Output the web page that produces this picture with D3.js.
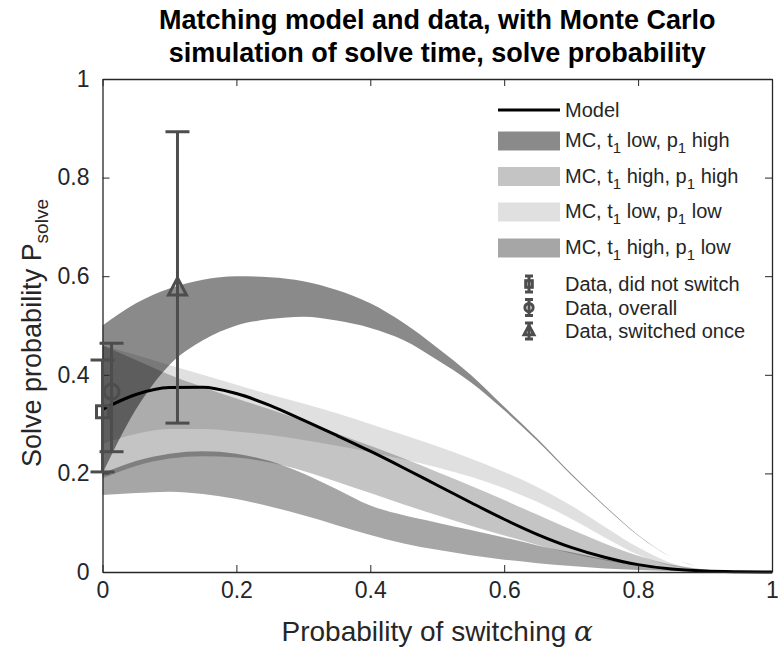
<!DOCTYPE html>
<html>
<head>
<meta charset="utf-8">
<script src="https://cdn.jsdelivr.net/npm/d3@7/dist/d3.min.js"></script>
<style>
  body { margin: 0; background: #fff; }
  svg { display: block; }
  text { font-family: "Liberation Sans", Arial, Helvetica, sans-serif; }
</style>
</head>
<body>
<svg id="chart" width="778" height="647"></svg>
<script>
// Switching probability grid shared by the model and the Monte Carlo bands
const alpha = [0,0.05,0.1,0.15,0.2,0.25,0.3,0.35,0.4,0.45,0.5,0.55,0.6,0.65,0.7,0.75,0.8,0.85,0.9,0.95,1];

// Analytical model of solve probability
const model = [0.33,0.36,0.374,0.375,0.362,0.338,0.308,0.277,0.245,0.211,0.176,0.141,0.107,0.076,0.050,0.030,0.015,0.006,0.002,0.0005,0];

// Monte Carlo bands (lower / upper envelope)
const mcLowHighLo  = [0.20,0.33,0.42,0.47,0.50,0.513,0.518,0.51,0.495,0.47,0.43,0.385,0.328,0.265,0.197,0.133,0.074,0.03,0.008,0.001,0];
const mcLowHighHi  = [0.50,0.545,0.575,0.593,0.60,0.598,0.59,0.572,0.545,0.505,0.455,0.40,0.335,0.27,0.20,0.135,0.075,0.03,0.008,0.001,0];
const mcHighHighLo = [0.19,0.215,0.23,0.235,0.232,0.222,0.205,0.183,0.16,0.137,0.115,0.094,0.074,0.055,0.038,0.024,0.013,0.006,0.002,0.0005,0];
const mcHighHighHi = [0.46,0.43,0.40,0.375,0.352,0.33,0.306,0.281,0.256,0.23,0.203,0.175,0.146,0.116,0.086,0.058,0.033,0.015,0.005,0.001,0];
const mcLowLowLo   = [0.26,0.28,0.29,0.29,0.285,0.278,0.268,0.256,0.243,0.228,0.212,0.193,0.17,0.142,0.108,0.07,0.035,0.012,0.004,0.001,0];
const mcLowLowHi   = [0.46,0.44,0.42,0.40,0.38,0.36,0.342,0.322,0.30,0.278,0.255,0.23,0.203,0.172,0.135,0.092,0.05,0.018,0.005,0.001,0];
const mcHighLowLo  = [0.156,0.16,0.163,0.158,0.148,0.133,0.115,0.095,0.075,0.058,0.045,0.034,0.025,0.018,0.012,0.007,0.004,0.002,0.001,0,0];
const mcHighLowHi  = [0.20,0.225,0.24,0.245,0.24,0.225,0.20,0.168,0.135,0.115,0.10,0.085,0.07,0.054,0.04,0.026,0.015,0.007,0.002,0.0005,0];

// Experimental data: switching rate, mean, error-bar ends
const dataNames = ["Data, did not switch", "Data, overall", "Data, switched once"];
const dataAlpha = [0, 0.0135, 0.112];
const dataMean  = [0.325, 0.366, 0.576];
const dataLow   = [0.203, 0.244, 0.302];
const dataHigh  = [0.430, 0.464, 0.893];
const dataMarker = ["square", "circle", "triangle"];

const xTicks = [0, 0.2, 0.4, 0.6, 0.8, 1];
const yTicks = [0, 0.2, 0.4, 0.6, 0.8, 1];

const svg = d3.select("#chart");
const margin = {left: 102.5, right: 6, top: 79, bottom: 75};
const W = 778, H = 647;
const x = d3.scaleLinear().domain([0, 1]).range([margin.left, W - margin.right]);
const y = d3.scaleLinear().domain([0, 1]).range([H - margin.bottom, margin.top]);

const bands = [
  {name: ["MC, t", "1", " low, p", "1", " high"], lo: mcLowHighLo, hi: mcLowHighHi, op: 0.46},
  {name: ["MC, t", "1", " high, p", "1", " high"], lo: mcHighHighLo, hi: mcHighHighHi, op: 0.23},
  {name: ["MC, t", "1", " low, p", "1", " low"], lo: mcLowLowLo, hi: mcLowLowHi, op: 0.12},
  {name: ["MC, t", "1", " high, p", "1", " low"], lo: mcHighLowLo, hi: mcHighLowHi, op: 0.35}
];

const plot = svg.append("g");
const area = (lo, hi) => d3.area()
  .x((d, i) => x(alpha[i]))
  .y0((d, i) => y(lo[i]))
  .y1((d, i) => y(hi[i]))
  .curve(d3.curveMonotoneX)(alpha);

bands.forEach(b => {
  plot.append("path").attr("d", area(b.lo, b.hi))
    .attr("fill", "#000").attr("fill-opacity", b.op).attr("stroke", "none");
});

// Model curve
plot.append("path")
  .attr("d", d3.line().x((d, i) => x(alpha[i])).y(d => y(d)).curve(d3.curveMonotoneX)(model))
  .attr("fill", "none").attr("stroke", "#000").attr("stroke-width", 3);

// Axes box
const axisColor = "#262626";
svg.append("g").attr("transform", `translate(0,${y(0)})`)
  .call(d3.axisBottom(x).tickValues(xTicks).tickFormat(d3.format("~g")).tickSizeInner(-7).tickSizeOuter(0).tickPadding(10));
svg.append("g").attr("transform", `translate(${x(0)},0)`)
  .call(d3.axisLeft(y).tickValues(yTicks).tickFormat(d3.format("~g")).tickSizeInner(-7).tickSizeOuter(0).tickPadding(13));
svg.append("g").attr("transform", `translate(0,${y(1)})`)
  .call(d3.axisTop(x).tickValues(xTicks).tickFormat("").tickSizeInner(-7).tickSizeOuter(0));
svg.append("g").attr("transform", `translate(${x(1)},0)`)
  .call(d3.axisRight(y).tickValues(yTicks).tickFormat("").tickSizeInner(-7).tickSizeOuter(0));
svg.selectAll(".domain").attr("stroke", axisColor).attr("stroke-width", 1.3);
svg.selectAll(".tick line").attr("stroke", axisColor);
svg.selectAll(".tick text").attr("fill", "#262626").style("font-size", "23px");

// Error bars and markers
const dataColor = "#4d4d4d";
const capW = 12;
const eb = svg.append("g");
dataAlpha.forEach((a, i) => {
  const cx = x(a);
  eb.append("line").attr("x1", cx).attr("x2", cx).attr("y1", y(dataLow[i])).attr("y2", y(dataHigh[i]))
    .attr("stroke", dataColor).attr("stroke-width", 3);
  [dataLow[i], dataHigh[i]].forEach(v => {
    eb.append("line").attr("x1", cx - capW).attr("x2", cx + capW).attr("y1", y(v)).attr("y2", y(v))
      .attr("stroke", dataColor).attr("stroke-width", 3);
  });
  drawMarker(eb, dataMarker[i], cx, y(dataMean[i]), 1);
});

function drawMarker(g, type, cx, cy, s) {
  const st = {fill: "none", stroke: dataColor, "stroke-width": 3};
  let el;
  if (type === "square") {
    el = g.append("rect").attr("x", cx - 6 * s).attr("y", cy - 6 * s).attr("width", 12 * s).attr("height", 12 * s);
  } else if (type === "circle") {
    el = g.append("circle").attr("cx", cx).attr("cy", cy).attr("r", 7.5 * s);
  } else {
    el = g.append("path").attr("d", `M${cx},${cy - 10 * s}L${cx + 9 * s},${cy + 7 * s}L${cx - 9 * s},${cy + 7 * s}Z`);
  }
  Object.entries(st).forEach(([k, v]) => el.attr(k, v));
}

// Legend
const lg = svg.append("g");
const lgX0 = 498, lgX1 = 560, lgTx = 565, lgFont = "20px";
lg.append("line").attr("x1", lgX0).attr("x2", lgX1).attr("y1", 110).attr("y2", 110)
  .attr("stroke", "#000").attr("stroke-width", 3);
lg.append("text").attr("x", lgTx).attr("y", 110).attr("dy", "0.35em").style("font-size", lgFont).attr("fill", "#262626").text("Model");
const bandY = [141, 176.5, 212, 248];
bands.forEach((b, i) => {
  lg.append("rect").attr("x", lgX0).attr("y", bandY[i] - 9.5).attr("width", lgX1 - lgX0).attr("height", 19)
    .attr("fill", "#000").attr("fill-opacity", b.op);
  const t = lg.append("text").attr("x", lgTx).attr("y", bandY[i]).attr("dy", "0.3em")
    .style("font-size", lgFont).attr("fill", "#262626");
  b.name.forEach((part, j) => {
    const ts = t.append("tspan").text(part);
    if (j % 2 === 1) ts.attr("dy", 6).style("font-size", "15px");
    else if (j > 0) ts.attr("dy", -6);
  });
});
const dataY = [284, 307.5, 331];
dataNames.forEach((n, i) => {
  const cx = 529;
  lg.append("line").attr("x1", cx).attr("x2", cx).attr("y1", dataY[i] - 8).attr("y2", dataY[i] + 8)
    .attr("stroke", dataColor).attr("stroke-width", 3);
  [-8, 8].forEach(d => lg.append("line").attr("x1", cx - 4).attr("x2", cx + 4).attr("y1", dataY[i] + d).attr("y2", dataY[i] + d)
    .attr("stroke", dataColor).attr("stroke-width", 3));
  drawMarker(lg, dataMarker[i], cx, dataY[i], 0.55);
  lg.append("text").attr("x", lgTx).attr("y", dataY[i]).attr("dy", "0.35em").style("font-size", lgFont).attr("fill", "#262626").text(n);
});

// Titles and axis labels
const title = svg.append("text").attr("x", x(0.5)).attr("text-anchor", "middle")
  .style("font-size", "27px").style("font-weight", "bold").attr("fill", "#000");
title.append("tspan").attr("x", x(0.5)).attr("y", 29).text("Matching model and data, with Monte Carlo");
title.append("tspan").attr("x", x(0.5)).attr("y", 62).text("simulation of solve time, solve probability");

const xl = svg.append("text").attr("x", x(0.5)).attr("y", 641).attr("text-anchor", "middle")
  .style("font-size", "28px").attr("fill", "#262626");
xl.append("tspan").text("Probability of switching ");
xl.append("tspan").style("font-family", "'DejaVu Serif', 'Liberation Serif', serif").style("font-style", "italic").text("α");

const yl = svg.append("text").attr("transform", `translate(41,333) rotate(-90)`).attr("text-anchor", "middle")
  .style("font-size", "27px").attr("fill", "#262626");
yl.append("tspan").text("Solve probability P");
yl.append("tspan").attr("dy", 7).style("font-size", "19px").text("solve");
</script>
</body>
</html>
